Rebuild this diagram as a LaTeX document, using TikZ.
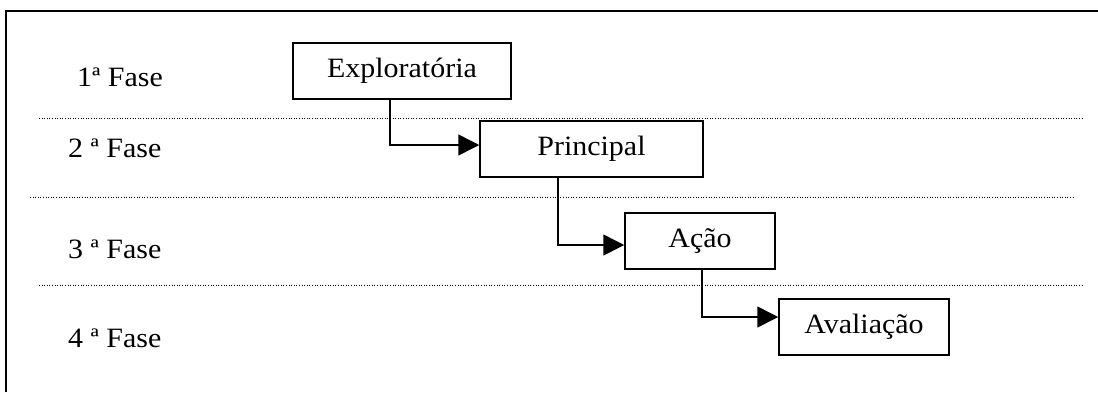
\documentclass[tikz,border=0pt]{standalone}
\usepackage{fontspec}
\setmainfont{Liberation Serif}[FakeStretch=1.07]
\usetikzlibrary{arrows.meta}
\begin{document}
\begin{tikzpicture}[x=1pt,y=-1pt,
  phasebox/.style={draw,line width=1.5pt,minimum width=#1,minimum height=56pt,inner sep=0pt,
    font=\fontsize{28}{32}\selectfont},
  phaselabel/.style={anchor=base west,inner sep=0pt,font=\fontsize{28}{32}\selectfont},
  divider/.style={line width=1pt,dash pattern=on 1pt off 1.6pt},
  flow/.style={line width=1.5pt,-{Triangle[length=21pt,width=21pt]}}]
\useasboundingbox (0,0) rectangle (1098,392);
% outer frame (top and left edges)
\draw[line width=2pt] (6,392) -- (6,11) -- (1098,11);
% phase dividers
\draw[divider] (39,118) -- (1083,118);
\draw[divider] (30,197) -- (1073,197);
\draw[divider] (39,285) -- (1083,285);
% phase labels
\node[phaselabel] (l1) at (77,86) {1ª Fase};
\node[phaselabel] (l2) at (68,157) {2 ª Fase};
\node[phaselabel] (l3) at (68,258) {3 ª Fase};
\node[phaselabel] (l4) at (68,347) {4 ª Fase};
% stage boxes
\node[phasebox=218pt] (exp) at (402,71) {Exploratória};
\node[phasebox=223pt] (pri) at (591.5,149) {Principal};
\node[phasebox=150pt] (aca) at (700,241) {Ação};
\node[phasebox=170pt] (ava) at (864,327) {Avaliação};
% connectors
\draw[flow] (exp.south -| 390,0) |- (pri.west |- 0,145);
\draw[flow] (pri.south -| 558,0) |- (aca.west |- 0,245);
\draw[flow] (aca.south -| 702,0) |- (ava.west |- 0,317);
\end{tikzpicture}
\end{document}
